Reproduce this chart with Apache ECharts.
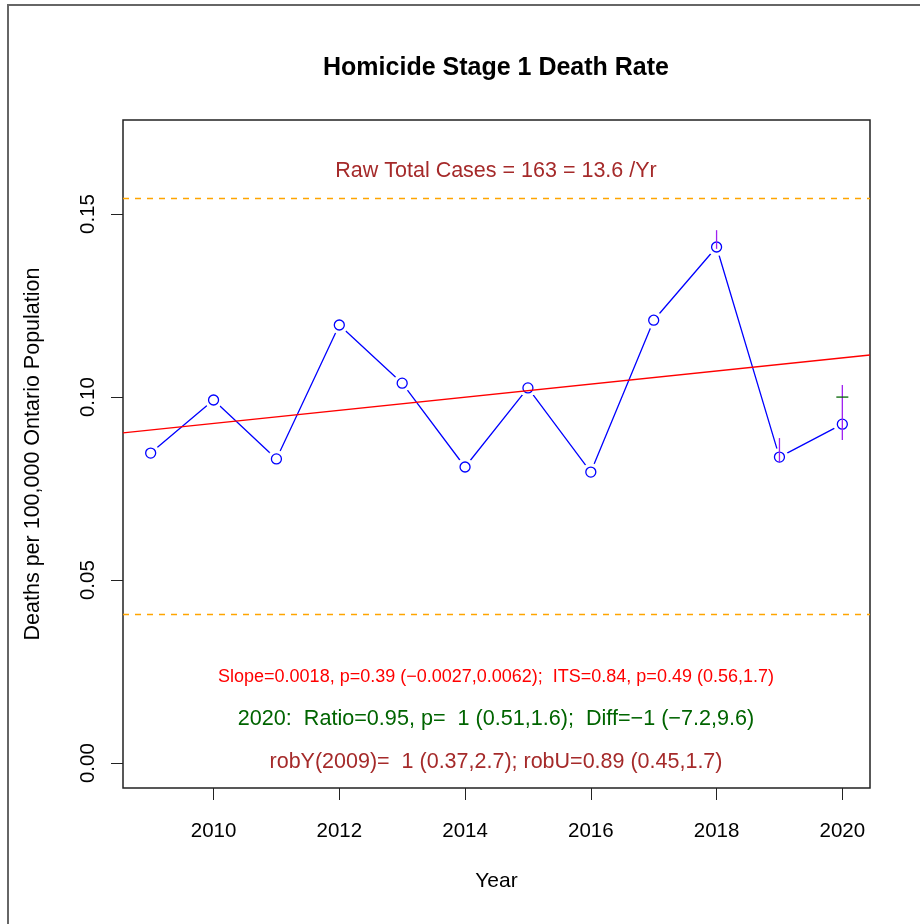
<!DOCTYPE html>
<html>
<head>
<meta charset="utf-8">
<script src="https://cdn.jsdelivr.net/npm/echarts@6/dist/echarts.min.js"></script>
<style>
  html, body { margin: 0; padding: 0; background: #fff; }
  #main { width: 920px; height: 924px; }
</style>
</head>
<body>
<div id="main"></div>
<script>
// yearly death rates (per 100,000)
const years = [2009, 2010, 2011, 2012, 2013, 2014, 2015, 2016, 2017, 2018, 2019, 2020];
const rates = [0.0847, 0.0992, 0.0831, 0.1197, 0.1038, 0.0809, 0.1025, 0.0795, 0.1210, 0.1410, 0.0836, 0.0926];

// fitted trend, read at the plot edges
const trendYears = [2008.56, 2020.44];
const trendRates = [0.0902, 0.1115];

// control limits
const limitRates = [0.1544, 0.0407];

// vertical interval bars
const barYears = [2018, 2019, 2020];
const barLow = [0.1405, 0.0822, 0.0883];
const barHigh = [0.1456, 0.0888, 0.1033];

// expected value mark for 2020
const expectedYear = 2020;
const expectedRate = 0.1000;

const xTicks = [2010, 2012, 2014, 2016, 2018, 2020];
const yTicks = [0, 0.05, 0.10, 0.15];

const titleText = 'Homicide Stage 1 Death Rate';
const rawText = 'Raw Total Cases = 163 = 13.6 /Yr';
const slopeText = 'Slope=0.0018, p=0.39 (\u22120.0027,0.0062);  ITS=0.84, p=0.49 (0.56,1.7)';
const ratioText = '2020:  Ratio=0.95, p=  1 (0.51,1.6);  Diff=\u22121 (\u22127.2,9.6)';
const robText = 'robY(2009)=  1 (0.37,2.7); robU=0.89 (0.45,1.7)';

const FONT = '"Liberation Sans", Arial, Helvetica, sans-serif';
const plotCx = 496;

const myChart = echarts.init(document.getElementById('main'), null, { renderer: 'canvas' });

const option = {
  backgroundColor: '#fff',
  animation: false,
  textStyle: { fontFamily: FONT },
  grid: {
    left: 123, right: 50, top: 120, bottom: 136,
    show: true, borderColor: '#222', borderWidth: 1.5,
    containLabel: false, outerBoundsMode: 'none'
  },
  xAxis: {
    type: 'value', min: 2008.56, max: 2020.44,
    name: 'Year', nameLocation: 'middle', nameGap: 83,
    nameTextStyle: { fontSize: 21, color: '#000', fontFamily: FONT },
    axisLine: { show: false, onZero: false },
    splitLine: { show: false },
    axisTick: { show: true, customValues: xTicks, length: 12, lineStyle: { color: '#222', width: 1 } },
    axisLabel: { customValues: xTicks, fontSize: 20.5, color: '#000', margin: 33, fontFamily: FONT,
      formatter: v => String(v) }
  },
  yAxis: {
    type: 'value', min: -0.0068, max: 0.1757,
    name: 'Deaths per 100,000 Ontario Population', nameLocation: 'middle', nameGap: 79, nameRotate: 90,
    nameTextStyle: { fontSize: 21.5, color: '#000', fontFamily: FONT },
    axisLine: { show: false, onZero: false },
    splitLine: { show: false },
    axisTick: { show: true, customValues: yTicks, length: 12, lineStyle: { color: '#222', width: 1 } },
    axisLabel: { customValues: yTicks, fontSize: 20.5, color: '#000', margin: 24, rotate: 90, fontFamily: FONT,
      formatter: v => v.toFixed(2) }
  },
  graphic: [
    { type: 'rect', shape: { x: 8, y: 5, width: 1000, height: 1000 },
      style: { fill: 'none', stroke: '#666', lineWidth: 2 }, silent: true },
    { type: 'text', x: plotCx, y: 68, style: { text: titleText, font: 'bold 25px ' + FONT, fill: '#000',
      textAlign: 'center', textVerticalAlign: 'middle' } },
    { type: 'text', x: plotCx, y: 171, style: { text: rawText, font: '21.5px ' + FONT, fill: '#A52A2A',
      textAlign: 'center', textVerticalAlign: 'middle' } },
    { type: 'text', x: plotCx, y: 677, style: { text: slopeText, font: '18px ' + FONT, fill: '#FF0000',
      textAlign: 'center', textVerticalAlign: 'middle' } },
    { type: 'text', x: plotCx, y: 719, style: { text: ratioText, font: '21.6px ' + FONT, fill: '#006400',
      textAlign: 'center', textVerticalAlign: 'middle' } },
    { type: 'text', x: plotCx, y: 762, style: { text: robText, font: '21.5px ' + FONT, fill: '#A52A2A',
      textAlign: 'center', textVerticalAlign: 'middle' } }
  ],
  series: [
    {
      name: 'limits', type: 'line', data: [], silent: true,
      markLine: {
        symbol: 'none', silent: true, precision: 6, label: { show: false },
        lineStyle: { color: '#FFA500', type: [6, 6], width: 1.3 },
        data: limitRates.map(v => ({ yAxis: v }))
      }
    },
    {
      name: 'rate', type: 'line', symbol: 'none', silent: true,
      lineStyle: { color: '#0000FF', width: 1.3 },
      data: years.map((y, i) => [y, rates[i]]),
      z: 2
    },
    {
      // open circles with a small white gap around them, as in type="b" plots
      name: 'points', type: 'custom', silent: true, z: 3,
      data: years.map((y, i) => [y, rates[i]]),
      renderItem: (params, api) => {
        const c = api.coord([api.value(0), api.value(1)]);
        return { type: 'group', children: [
          { type: 'circle', shape: { cx: c[0], cy: c[1], r: 9 }, style: { fill: '#fff' } },
          { type: 'circle', shape: { cx: c[0], cy: c[1], r: 5 },
            style: { fill: 'none', stroke: '#0000FF', lineWidth: 1.3 } }
        ] };
      }
    },
    {
      name: 'trend', type: 'line', symbol: 'none', silent: true,
      lineStyle: { color: '#FF0000', width: 1.3 },
      data: trendYears.map((y, i) => [y, trendRates[i]]),
      z: 4
    },
    {
      name: 'bars', type: 'custom', silent: true, z: 5,
      data: barYears.map((y, i) => [y, barLow[i], barHigh[i]]),
      renderItem: (params, api) => {
        const lo = api.coord([api.value(0), api.value(1)]);
        const hi = api.coord([api.value(0), api.value(2)]);
        return { type: 'line', shape: { x1: lo[0], y1: lo[1], x2: hi[0], y2: hi[1] },
          style: { stroke: '#A020F0', lineWidth: 1.3 } };
      }
    },
    {
      name: 'expected', type: 'custom', silent: true, z: 5,
      data: [[expectedYear, expectedRate]],
      renderItem: (params, api) => {
        const c = api.coord([api.value(0), api.value(1)]);
        return { type: 'line', shape: { x1: c[0] - 6, y1: c[1], x2: c[0] + 6, y2: c[1] },
          style: { stroke: '#006400', lineWidth: 1.3 } };
      }
    }
  ]
};

myChart.setOption(option);
</script>
</body>
</html>
